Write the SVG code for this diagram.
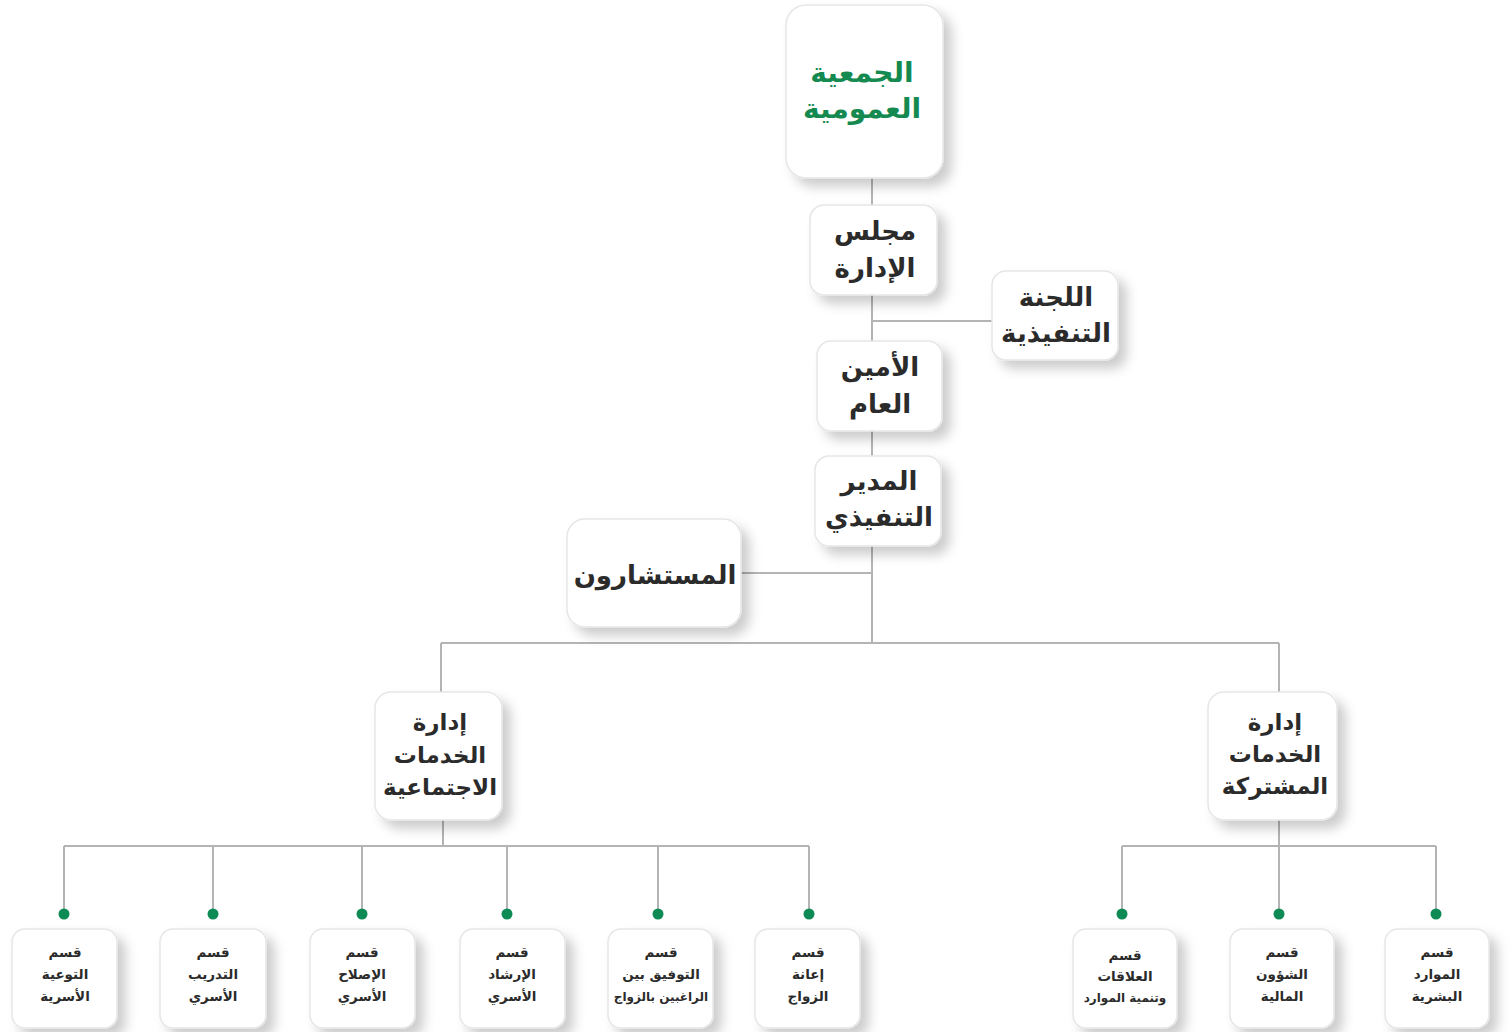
<svg xmlns="http://www.w3.org/2000/svg" width="1509" height="1032" viewBox="0 0 1509 1032">
<defs>
<filter id="sh" x="-30%" y="-30%" width="170%" height="170%">
<feDropShadow dx="8" dy="8" stdDeviation="6" flood-color="#000" flood-opacity="0.2"/>
</filter>
<style>
.box{fill:#fff;stroke:#e6e6e6;stroke-width:1.5;filter:url(#sh)}
.t{font-family:"DejaVu Sans",sans-serif;font-weight:bold;text-anchor:middle;fill:#2b2b2b;direction:rtl}
.big{font-size:26px}
.mid{font-size:23px}
.g{fill:#148a50;font-size:28px}
.sm{font-size:13.5px}
.xs{font-size:12px}
.ln{stroke:#b4b4b4;stroke-width:2;fill:none}
.dot{fill:#0e8a55}
</style>
</defs>
<rect width="1509" height="1032" fill="#fff"/>
<g id="connectors">
<path class="ln" d="M872 178V643M872 321H992M741 573H872M441 643H1279M441 643V692M1279 643V692"/>
<path class="ln" d="M443 820V846M64 846H809M64 846V913M213 846V913M362 846V913M507 846V913M658 846V913M809 846V913"/>
<path class="ln" d="M1279 820V846M1122 846H1436M1122 846V913M1279 846V913M1436 846V913"/>
<circle class="dot" cx="64" cy="914" r="5.5"/>
<circle class="dot" cx="213" cy="914" r="5.5"/>
<circle class="dot" cx="362" cy="914" r="5.5"/>
<circle class="dot" cx="507" cy="914" r="5.5"/>
<circle class="dot" cx="658" cy="914" r="5.5"/>
<circle class="dot" cx="809" cy="914" r="5.5"/>
<circle class="dot" cx="1122" cy="914" r="5.5"/>
<circle class="dot" cx="1279" cy="914" r="5.5"/>
<circle class="dot" cx="1436" cy="914" r="5.5"/>
</g>
<g id="general-assembly">
<rect class="box" x="786" y="5" width="157" height="173" rx="20"/>
<text class="t g" x="862" y="82">الجمعية</text>
<text class="t g" x="862" y="118">العمومية</text>
</g>
<g id="board">
<rect class="box" x="810" y="205" width="127" height="90" rx="14"/>
<text class="t big" x="875" y="240">مجلس</text>
<text class="t big" x="875" y="277">الإدارة</text>
</g>
<g id="exec-committee">
<rect class="box" x="992" y="271" width="126" height="89" rx="14"/>
<text class="t big" x="1056" y="306">اللجنة</text>
<text class="t big" x="1056" y="342">التنفيذية</text>
</g>
<g id="secretary-general">
<rect class="box" x="817" y="341" width="125" height="90" rx="14"/>
<text class="t big" x="880" y="376">الأمين</text>
<text class="t big" x="880" y="413">العام</text>
</g>
<g id="executive-director">
<rect class="box" x="815" y="456" width="126" height="90" rx="14"/>
<text class="t big" x="879" y="490">المدير</text>
<text class="t big" x="879" y="526">التنفيذي</text>
</g>
<g id="consultants">
<rect class="box" x="567" y="519" width="174" height="108" rx="18"/>
<text class="t big" x="655" y="584">المستشارون</text>
</g>
<g id="social-services">
<rect class="box" x="375" y="692" width="127" height="128" rx="16"/>
<text class="t mid" x="440" y="730">إدارة</text>
<text class="t mid" x="440" y="763">الخدمات</text>
<text class="t mid" x="440" y="795">الاجتماعية</text>
</g>
<g id="shared-services">
<rect class="box" x="1208" y="692" width="129" height="128" rx="16"/>
<text class="t mid" x="1275" y="730">إدارة</text>
<text class="t mid" x="1275" y="762">الخدمات</text>
<text class="t mid" x="1275" y="794">المشتركة</text>
</g>
<g id="dept-awareness">
<rect class="box" x="12" y="929" width="105" height="99" rx="13"/>
<text class="t sm" x="65" y="957">قسم</text>
<text class="t sm" x="65" y="979">التوعية</text>
<text class="t sm" x="65" y="1001">الأسرية</text>
</g>
<g id="dept-training">
<rect class="box" x="160" y="929" width="106" height="99" rx="13"/>
<text class="t sm" x="213" y="957">قسم</text>
<text class="t sm" x="213" y="979">التدريب</text>
<text class="t sm" x="213" y="1001">الأسري</text>
</g>
<g id="dept-reform">
<rect class="box" x="310" y="929" width="105" height="99" rx="13"/>
<text class="t sm" x="362" y="957">قسم</text>
<text class="t sm" x="362" y="979">الإصلاح</text>
<text class="t sm" x="362" y="1001">الأسري</text>
</g>
<g id="dept-guidance">
<rect class="box" x="460" y="929" width="105" height="99" rx="13"/>
<text class="t sm" x="512" y="957">قسم</text>
<text class="t sm" x="512" y="979">الإرشاد</text>
<text class="t sm" x="512" y="1001">الأسري</text>
</g>
<g id="dept-matching">
<rect class="box" x="608" y="929" width="105" height="99" rx="13"/>
<text class="t sm" x="661" y="957">قسم</text>
<text class="t sm" x="661" y="979">التوفيق بين</text>
<text class="t xs" x="661" y="1001">الراغبين بالزواج</text>
</g>
<g id="dept-marriage-aid">
<rect class="box" x="755" y="929" width="105" height="99" rx="13"/>
<text class="t sm" x="808" y="957">قسم</text>
<text class="t sm" x="808" y="979">إعانة</text>
<text class="t sm" x="808" y="1001">الزواج</text>
</g>
<g id="dept-relations">
<rect class="box" x="1073" y="929" width="104" height="99" rx="13"/>
<text class="t sm" x="1125" y="960">قسم</text>
<text class="t sm" x="1125" y="981">العلاقات</text>
<text class="t xs" x="1125" y="1002">وتنمية الموارد</text>
</g>
<g id="dept-finance">
<rect class="box" x="1230" y="929" width="104" height="99" rx="13"/>
<text class="t sm" x="1282" y="957">قسم</text>
<text class="t sm" x="1282" y="979">الشؤون</text>
<text class="t sm" x="1282" y="1001">المالية</text>
</g>
<g id="dept-hr">
<rect class="box" x="1385" y="929" width="104" height="99" rx="13"/>
<text class="t sm" x="1437" y="957">قسم</text>
<text class="t sm" x="1437" y="979">الموارد</text>
<text class="t sm" x="1437" y="1001">البشرية</text>
</g>
</svg>
